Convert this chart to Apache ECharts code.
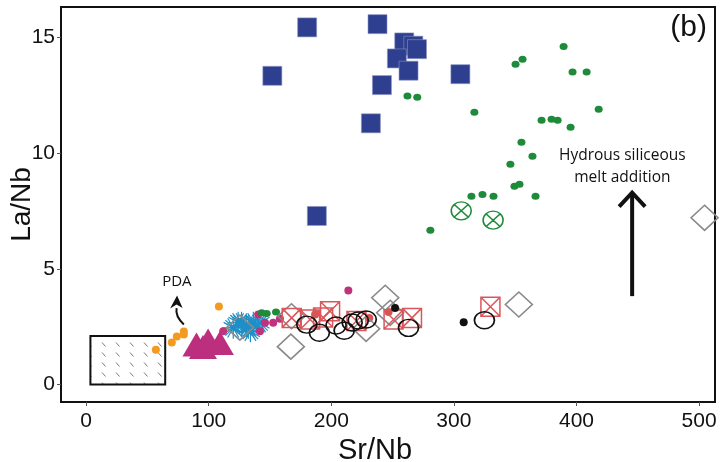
<!DOCTYPE html>
<html><head><meta charset="utf-8">
<script src="https://cdn.jsdelivr.net/npm/echarts@6/dist/echarts.min.js"></script>
<style>html,body{margin:0;padding:0;background:#fff}#c{width:720px;height:462px}</style>
</head><body><div id="c"></div>
<script>
// ---- data (Sr/Nb, La/Nb) ----
const xTicks = [0, 100, 200, 300, 400, 500];
const yTicks = [0, 5, 10, 15];
const blueSquares = [[180.3,15.42],[237.7,15.56],[151.9,13.33],[232.3,11.28],[241.3,12.93],[259.5,14.77],[266.9,14.63],[253.5,14.08],[263,13.55],[269.9,14.48],[188.2,7.28],[305.3,13.4]];
const greenDots = [[389.5,14.6],[356,14.05],[350.3,13.83],[396.8,13.49],[408.3,13.49],[316.7,11.76],[371.5,11.41],[379.7,11.46],[384.6,11.41],[395.2,11.11],[418.1,11.89],[355.1,10.46],[346.1,9.51],[364.1,9.86],[349.4,8.56],[353.5,8.65],[366.6,8.13],[332.3,8.13],[323.3,8.21],[314.3,8.13],[280.8,6.66],[262.1,12.46],[270.1,12.4],[143.2,3.1],[147.3,3.07],[154.9,3.13]];
const greenCrossed = [[306,7.5],[332,7.1]];
const magentaDots = [[213.9,4.06],[140.4,3.03],[145.9,2.67],[141.8,2.3],[152.6,2.67],[158.1,2.84],[111.8,2.3]];
const magentaTriangles = [[90,1.73],[95.3,1.62],[99.5,1.9],[109.1,1.8]];
const blueAsterisks = [[120,2.45],[124,2.67],[126.8,2.67],[130.9,2.52],[132.3,2.45],[136.4,2.67],[141.8,2.67],[134,2.3]];
const orangeDots = [[56.9,1.51],[69.9,1.82],[74,2.08],[79.7,2.29],[79.7,2.16],[108.3,3.37]];
const redDots = [[186.8,3.03],[231,2.88],[246.7,3.13]];
const grayDiamonds = [[125.4,2.46],[167.5,2.95],[167,1.64],[228.4,2.41],[244,3.75],[248,3.1],[353,3.46],[504.5,7.2]];
const redCrossedBoxes = [[167.7,2.88],[182.7,2.81],[193.3,2.9],[199,3.17],[220.5,2.75],[250.8,2.81],[265.8,2.88],[329.8,3.36]];
const blackCircles = [[180,2.59],[190.3,2.24],[203.9,2.55],[210.5,2.33],[217,2.68],[222,2.77],[228.5,2.81],[263,2.45],[324.9,2.78]];
const blackDots = [[308,2.69],[252,3.31]];
// mantle field box: [xMin, xMax, yMin, yMax]
const mantleBox = [3.5, 64.5, 0, 2.1];
// annotations in data space
const pdaArrow = [[79.7,2.6],[72.5,2.95],[73.8,3.3],[74.2,3.85]]; // start, control, shaft end, tip
const pdaLabel = [74, 4.45, 'PDA'];
const meltArrow = [[445.4,3.82],[445.4,8.29]];
const meltLabel = [437.4, 9.41, 'Hydrous siliceous\nmelt addition'];

// hatch pattern
const hatch = document.createElement('canvas');
hatch.width = 14; hatch.height = 10;
(function(){const g = hatch.getContext('2d'); g.fillStyle='#fff'; g.fillRect(0,0,14,10);
 g.strokeStyle='#7a7a7a'; g.lineWidth=1; g.beginPath(); g.moveTo(4,2.5); g.lineTo(7.5,6.5); g.stroke();})();

const chart = echarts.init(document.getElementById('c'), null, {renderer:'canvas'});
const noEmph = {disabled:true};
function sc(name, data, symbol, size, style, z){
  style.opacity = 1;
  return {type:'scatter', name, data, symbol, symbolSize:size, itemStyle:style, emphasis:noEmph, z:z||2, silent:true};
}
const hollow = 'rgba(255,255,255,0)';
const boxX = 'path://M0,0L20,0L20,20L0,20ZM0,0L20,20M20,0L0,20';
const circX = 'path://M0,10A10,10 0 1 1 20,10A10,10 0 1 1 0,10ZM2.5,2.5L17.5,17.5M17.5,2.5L2.5,17.5';
const aster = 'path://M10,0L10,20M0,10L20,10M2.9,2.9L17.1,17.1M17.1,2.9L2.9,17.1M5,1.3L15,18.7M15,1.3L5,18.7M1.3,5L18.7,15M1.3,15L18.7,5';

const option = {
  animation:false,
  backgroundColor:'#fff',
  title:{text:'(b)', right:8, top:8, textStyle:{fontFamily:'Liberation Sans', fontSize:30, fontWeight:'normal', color:'#111'}},
  grid:{left:61, right:5, top:7, bottom:60, containLabel:false, outerBoundsMode:'none', show:true, borderColor:'#111', borderWidth:2, backgroundColor:'#fff'},
  xAxis:{type:'value', min:-20.5, max:513, name:'Sr/Nb', nameLocation:'middle', nameGap:24,
    nameTextStyle:{fontFamily:'Liberation Sans', fontSize:29, color:'#111', padding:[0,26,0,0]},
    axisLine:{show:true, onZero:false, lineStyle:{color:'#111', width:2}},
    axisTick:{show:true, customValues:xTicks, length:4, lineStyle:{color:'#555'}},
    axisLabel:{customValues:xTicks, fontFamily:'Liberation Sans', fontSize:21, color:'#111', margin:9},
    splitLine:{show:false}},
  yAxis:{type:'value', min:-0.75, max:16.3, name:'La/Nb', nameLocation:'middle', nameGap:25, nameMoveOverlap:false,
    nameTextStyle:{fontFamily:'Liberation Sans', fontSize:28, color:'#111'},
    axisLine:{show:true, onZero:false, lineStyle:{color:'#111', width:2}},
    axisTick:{show:true, customValues:yTicks, length:4, lineStyle:{color:'#555'}},
    axisLabel:{customValues:yTicks, fontFamily:'Liberation Sans', fontSize:21, color:'#111', margin:6},
    splitLine:{show:false}},
  series:[
    {type:'custom', name:'box', silent:true, z:1, data:[[mantleBox[0], mantleBox[2]]],
     renderItem:function(p, api){
       const a = api.coord([mantleBox[0], mantleBox[3]]);
       const b = api.coord([mantleBox[1], mantleBox[2]]);
       return {type:'rect', shape:{x:a[0], y:a[1], width:b[0]-a[0], height:b[1]-a[1]},
         style:{fill:{image:hatch, repeat:'repeat'}, stroke:'#111', lineWidth:2}};
     }},
    sc('orange', orangeDots, 'circle', 8, {color:'#F39A1F'}),
    sc('triangles', magentaTriangles, 'triangle', [28,24], {color:'#BC2F7F'}),
    sc('asterisks', blueAsterisks, aster, 22, {color:hollow, borderColor:'#1E8FC8', borderWidth:1.2}),
    sc('magenta', magentaDots, 'circle', 8, {color:'#C0317E'}),
    sc('green', greenDots, 'circle', [8,7], {color:'#1E8B3A'}),
    sc('red', redDots, 'circle', 8, {color:'#D9534F'}),
    sc('diamonds', grayDiamonds, 'diamond', [27,25], {color:hollow, borderColor:'#8a8a8a', borderWidth:1.6}),
    sc('redbox', redCrossedBoxes, boxX, 19, {color:hollow, borderColor:'#D9575A', borderWidth:1.5}),
    sc('circles', blackCircles, 'circle', [20,17], {color:hollow, borderColor:'#111', borderWidth:1.6}),
    sc('blackdots', blackDots, 'circle', 8, {color:'#111'}),
    sc('squares', blueSquares, 'rect', 19, {color:'#2E3F8F', borderColor:'#8b93c6', borderWidth:0.6}),
    sc('greencross', greenCrossed, circX, [20,18], {color:hollow, borderColor:'#1E8B3A', borderWidth:1.5}),
    {type:'custom', name:'annotations', silent:true, z:5, data:[[0,0]],
     renderItem:function(p, api){
       const s = api.coord(pdaArrow[0]), c = api.coord(pdaArrow[1]), e = api.coord(pdaArrow[2]), t = api.coord(pdaArrow[3]);
       const m0 = api.coord(meltArrow[0]), m1 = api.coord(meltArrow[1]);
       const pl = api.coord([pdaLabel[0], pdaLabel[1]]);
       const ml = api.coord([meltLabel[0], meltLabel[1]]);
       return {type:'group', children:[
         {type:'bezierCurve', shape:{x1:s[0], y1:s[1], cpx1:c[0], cpy1:c[1], x2:e[0], y2:e[1]}, style:{stroke:'#111', lineWidth:2, fill:null}},
         {type:'polygon', shape:{points:[[t[0],t[1]],[t[0]-7,t[1]+13],[t[0]-0.5,t[1]+9],[t[0]+5.5,t[1]+12.5]]}, style:{fill:'#111'}},
         {type:'line', shape:{x1:m0[0], y1:m0[1], x2:m1[0], y2:m1[1]+2}, style:{stroke:'#111', lineWidth:4}},
         {type:'polyline', shape:{points:[[m1[0]-13,m1[1]+14],[m1[0],m1[1]],[m1[0]+13,m1[1]+14]]}, style:{stroke:'#111', lineWidth:4, fill:null, lineJoin:'miter'}},
         {type:'text', x:pl[0], y:pl[1], style:{text:pdaLabel[2], fontFamily:'Open Sans', fontSize:15, fill:'#111', align:'center', verticalAlign:'middle'}},
         {type:'text', x:ml[0], y:ml[1], style:{text:meltLabel[2], fontFamily:'Open Sans', fontSize:15.5, lineHeight:22, fill:'#111', align:'center', verticalAlign:'middle'}}
       ]};
     }}
  ]
};
chart.setOption(option);
</script></body></html>
